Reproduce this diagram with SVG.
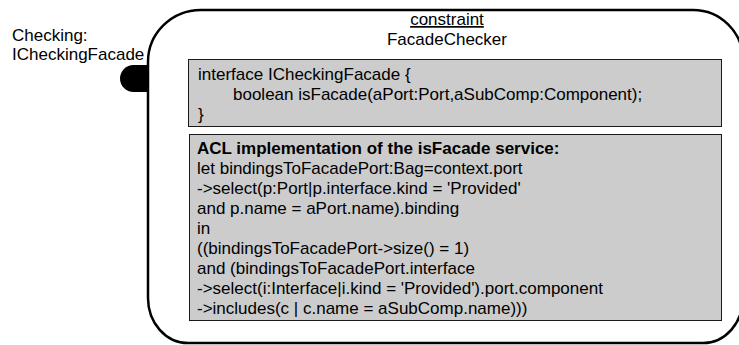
<svg xmlns="http://www.w3.org/2000/svg" width="739" height="345" viewBox="0 0 739 345">
<style>
text{font-family:"Liberation Sans",Arial,sans-serif;font-size:17px;fill:#000}
.box{fill:#cccccc;stroke:#1a1a1a;stroke-width:1}
.shape{fill:#ffffff;stroke:#000;stroke-width:2.5}
</style>
<rect width="739" height="345" fill="#ffffff"/>
<g id="port">
<path d="M148,65 H133.5 A13.5,13.5 0 0 0 133.5,92 H148 Z" fill="#000"/>
</g>
<g id="port-label">
<text x="12" y="41">Checking:</text>
<text x="12" y="60">ICheckingFacade</text>
</g>
<g id="FacadeChecker">
<path class="shape" d="M201,10 H693 A50,50 0 0 1 743,60 V298 A40,45 0 0 1 703,343 H188 A40,45 0 0 1 148,298 V62 A53,52 0 0 1 201,10 Z"/>
<text x="447" y="25" text-anchor="middle" text-decoration="underline">constraint</text>
<text x="447" y="45" text-anchor="middle">FacadeChecker</text>
</g>
<g id="interface-box">
<rect class="box" x="188.5" y="59.5" width="533" height="67"/>
<text x="198" y="80">interface ICheckingFacade {</text>
<text x="233" y="100">boolean isFacade(aPort:Port,aSubComp:Component);</text>
<text x="198" y="120">}</text>
</g>
<g id="acl-box">
<rect class="box" x="189.5" y="134.5" width="532" height="186"/>
<text x="197" y="154" font-weight="bold">ACL implementation of the isFacade service:</text>
<text x="197" y="174">let bindingsToFacadePort:Bag=context.port</text>
<text x="197" y="194">-&gt;select(p:Port|p.interface.kind = 'Provided'</text>
<text x="197" y="214">and p.name = aPort.name).binding</text>
<text x="197" y="234">in</text>
<text x="197" y="254">((bindingsToFacadePort-&gt;size() = 1)</text>
<text x="197" y="274">and (bindingsToFacadePort.interface</text>
<text x="197" y="294">-&gt;select(i:Interface|i.kind = 'Provided').port.component</text>
<text x="197" y="314">-&gt;includes(c | c.name = aSubComp.name)))</text>
</g>
<g id="connectors"></g>
</svg>
